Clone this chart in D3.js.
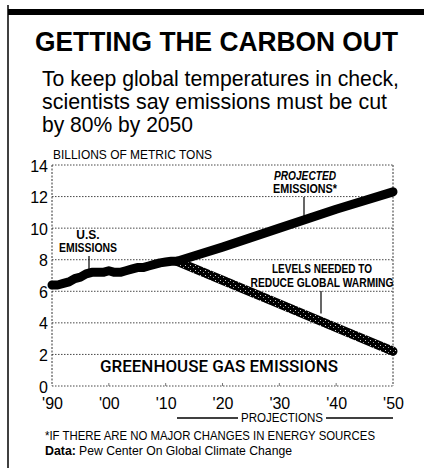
<!DOCTYPE html>
<html lang="en">
<head>
<meta charset="UTF-8" />
<title>Getting the carbon out</title>
<script src="https://cdn.jsdelivr.net/npm/d3@7"></script>
<style>
  body { margin: 0; background: #fff; }
  svg { display: block; }
</style>
</head>
<body>
<svg id="chart"></svg>
<script>
// data (billions of metric tons)
const histYears = [1990, 1991, 1992, 1993, 1994, 1995, 1996, 1997, 1998, 1999, 2000, 2001,
  2002, 2003, 2004, 2005, 2006, 2007, 2008, 2009, 2010, 2011, 2012];
const histValues = [6.4, 6.4, 6.5, 6.6, 6.8, 6.9, 7.1, 7.2, 7.2, 7.2, 7.3, 7.2,
  7.2, 7.3, 7.4, 7.5, 7.5, 7.6, 7.7, 7.8, 7.85, 7.9, 7.9];
const projYears = [2012, 2020, 2030, 2040, 2050];
const projValues = [7.9, 8.8, 10.0, 11.2, 12.3];
const cutYears = [2012, 2020, 2030, 2040, 2050];
const cutValues = [7.9, 6.7, 5.2, 3.7, 2.2];
const yTicks = [0, 2, 4, 6, 8, 10, 12, 14];
const xTicks = [1990, 2000, 2010, 2020, 2030, 2040, 2050];
const xTickLabels = ["'90", "'00", "'10", "'20", "'30", "'40", "'50"];

const W = 424, H = 468;
const narrow = '"Liberation Sans Narrow", "Arial Narrow", "Liberation Sans", sans-serif';

const svg = d3.select("#chart").attr("width", W).attr("height", H);

// halftone look for the "needed" line: mostly black, light speckles
const pat = svg.append("defs").append("pattern")
  .attr("id", "stip").attr("width", 5).attr("height", 5)
  .attr("patternUnits", "userSpaceOnUse");
pat.append("rect").attr("width", 5).attr("height", 5).attr("fill", "#000");
pat.append("rect").attr("x", 0).attr("y", 0).attr("width", 1).attr("height", 1).attr("fill", "#ccc");
pat.append("rect").attr("x", 3).attr("y", 2).attr("width", 1).attr("height", 1).attr("fill", "#999");

function addText(txt, x, y, size, o = {}) {
  const t = svg.append("text")
    .attr("x", x).attr("y", y)
    .attr("font-family", o.family || narrow)
    .attr("font-size", size)
    .attr("font-weight", o.weight || "normal")
    .attr("text-anchor", o.anchor || "start")
    .attr("fill", "#000")
    .text(txt);
  if (o.italic) t.attr("font-style", "italic");
  if (o.width) t.attr("textLength", o.width).attr("lengthAdjust", "spacingAndGlyphs");
  return t;
}

// frame: black rule on top, thin line down the left
svg.append("rect").attr("x", 8).attr("y", 9).attr("width", W - 8).attr("height", 6).attr("fill", "#000");
svg.append("line").attr("x1", 8).attr("x2", 8).attr("y1", 5).attr("y2", H)
  .attr("stroke", "#000").attr("stroke-width", 1.5);

// headline + dek
addText("GETTING THE CARBON OUT", 35, 51, 27, { family: '"Liberation Sans", sans-serif', weight: "bold", width: 363 });
addText("To keep global temperatures in check,", 42, 86, 22, { width: 357 });
addText("scientists say emissions must be cut", 42, 109, 22, { width: 345 });
addText("by 80% by 2050", 42, 132, 22, { width: 151 });

addText("BILLIONS OF METRIC TONS", 53, 159, 13.5, { width: 159 });

// scales
const x = d3.scaleLinear().domain([1990, 2050]).range([52, 393]);
const y = d3.scaleLinear().domain([0, 14]).range([386, 165]);

// grid
const grid = svg.append("g");
grid.selectAll("line.h").data(yTicks).join("line")
  .attr("class", "h")
  .attr("x1", x(1990)).attr("x2", x(2050))
  .attr("y1", d => y(d)).attr("y2", d => y(d))
  .attr("stroke", "#333").attr("stroke-width", 0.9).attr("stroke-dasharray", "1.5,1.5");
grid.selectAll("line.v").data([1990, 2050]).join("line")
  .attr("class", "v")
  .attr("x1", d => x(d)).attr("x2", d => x(d))
  .attr("y1", y(14)).attr("y2", y(0))
  .attr("stroke", "#333").attr("stroke-width", 1).attr("stroke-dasharray", "2,1.5");
grid.selectAll("line.t").data(xTicks.slice(1, -1)).join("line")
  .attr("class", "t")
  .attr("x1", d => x(d)).attr("x2", d => x(d))
  .attr("y1", y(0) - 3).attr("y2", y(0))
  .attr("stroke", "#555").attr("stroke-width", 0.8);

// axes (labels only)
const yAxis = svg.append("g")
  .attr("transform", `translate(${x(1990) - 3},1)`)
  .call(d3.axisLeft(y).tickValues(yTicks).tickSize(0).tickPadding(1));
const xAxis = svg.append("g")
  .attr("transform", `translate(0,${y(0)})`)
  .call(d3.axisBottom(x).tickValues(xTicks).tickSize(0).tickPadding(12)
    .tickFormat((d, i) => xTickLabels[i]));
[yAxis, xAxis].forEach(a => {
  a.select(".domain").remove();
  a.selectAll("text").attr("font-family", narrow).attr("font-size", 16).attr("fill", "#000");
});

// lines
const line = d3.line().x(d => x(d[0])).y(d => y(d[1]));
const hist = histYears.map((yr, i) => [yr, histValues[i]]);
const proj = projYears.map((yr, i) => [yr, projValues[i]]);
const cut = cutYears.map((yr, i) => [yr, cutValues[i]]);

svg.append("path").datum(cut).attr("d", line)
  .attr("fill", "none").attr("stroke", "url(#stip)").attr("stroke-width", 9)
  .attr("stroke-linecap", "round").attr("stroke-linejoin", "round");
[hist, proj].forEach(s => {
  svg.append("path").datum(s).attr("d", line)
    .attr("fill", "none").attr("stroke", "#000").attr("stroke-width", 9)
    .attr("stroke-linecap", "round").attr("stroke-linejoin", "round");
});

// annotations
const bold = { weight: "bold", anchor: "middle" };
addText("U.S.", 88, 239, 12, bold);
addText("EMISSIONS", 88, 252, 12, { ...bold, width: 58 });
svg.append("line").attr("x1", 89).attr("x2", 89).attr("y1", 256).attr("y2", y(7.1))
  .attr("stroke", "#000").attr("stroke-width", 1.2);

addText("PROJECTED", 305, 180, 12, { ...bold, italic: true, width: 62 });
addText("EMISSIONS*", 305, 193, 12, { ...bold, width: 64 });
svg.append("line").attr("x1", 304).attr("x2", 304).attr("y1", 197).attr("y2", y(10.4))
  .attr("stroke", "#000").attr("stroke-width", 1.2);

addText("LEVELS NEEDED TO", 322, 273, 12, { ...bold, width: 100 });
addText("REDUCE GLOBAL WARMING", 322, 287, 12, { ...bold, width: 143 });
svg.append("line").attr("x1", 321).attr("x2", 321).attr("y1", 291).attr("y2", y(4.6))
  .attr("stroke", "#000").attr("stroke-width", 1.2);

addText("GREENHOUSE GAS EMISSIONS", 100, 372, 17,
  { family: 'Roboto, "Liberation Sans", sans-serif', weight: 500, width: 238 });

// projections bracket
svg.append("line").attr("x1", 177).attr("x2", 238).attr("y1", 418).attr("y2", 418)
  .attr("stroke", "#000").attr("stroke-width", 1.5);
svg.append("line").attr("x1", 326).attr("x2", x(2050)).attr("y1", 418).attr("y2", 418)
  .attr("stroke", "#000").attr("stroke-width", 1.5);
addText("PROJECTIONS", 282, 422, 12, { anchor: "middle", width: 82 });

// footnotes
addText("*IF THERE ARE NO MAJOR CHANGES IN ENERGY SOURCES", 45, 440, 13, { width: 330 });
addText("Data:", 45, 455, 13, { weight: "bold", width: 31 });
addText("Pew Center On Global Climate Change", 79, 455, 13, { width: 213 });
</script>
</body>
</html>
